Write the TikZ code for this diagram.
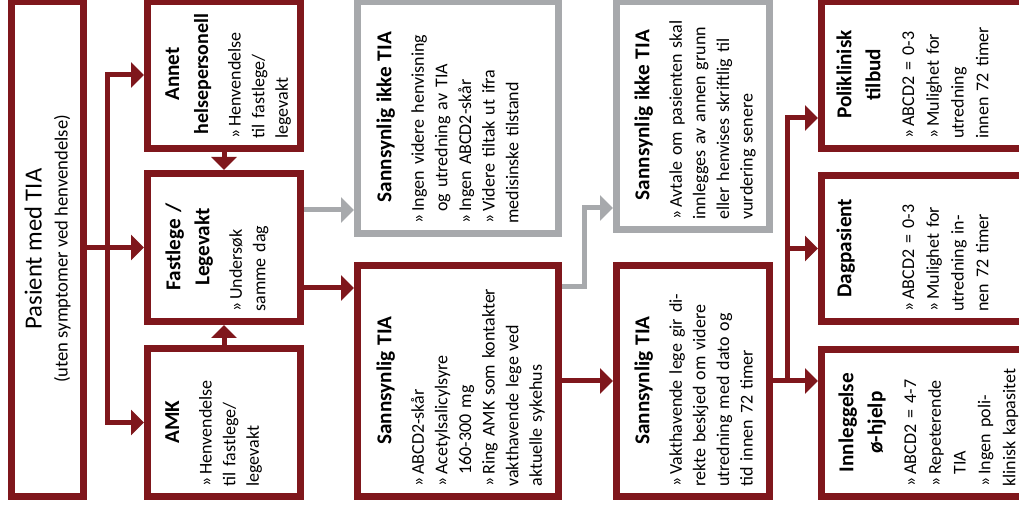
\documentclass[tikz,border=0pt]{standalone}
\usepackage{fontspec}
\setmainfont{Carlito}
\usetikzlibrary{arrows.meta,calc}
\definecolor{tiared}{RGB}{127,23,28}
\definecolor{tiagrey}{RGB}{167,169,172}
\newcommand{\bodyfont}{\fontsize{9}{11.8}\selectfont}
\newcommand{\boxhead}[1]{{\centering\fontsize{10.6}{14.5}\selectfont\bfseries #1\par}\vspace{4.5pt}}
\newlength{\bulw}
\setlength{\bulw}{6pt}
\newcommand{\itm}[1]{\par\hangindent=\bulw\hangafter=1\noindent\makebox[\bulw][l]{»}#1}

\begin{document}
\begin{tikzpicture}[x=0.5pt, y=-0.5pt,
    redbox/.style={draw=tiared, line width=3.5pt, fill=white, inner sep=0pt},
    greybox/.style={draw=tiagrey, line width=3.5pt, fill=white, inner sep=0pt},
    boxsize/.style 2 args={minimum width=#1*0.5pt-3.5pt, minimum height=#2*0.5pt-3.5pt},
    txt/.style={rotate=90, anchor=north west, inner sep=0pt, align=left, text width=#1, font=\bodyfont},
    wide/.style={font=\fontsize{9}{12.4}\selectfont},
    rline/.style={draw=tiared, line width=2.5pt},
    gline/.style={draw=tiagrey, line width=2.5pt},
    arr/.style={-{Triangle[length=6.5pt,width=12.5pt]}},
    arrboth/.style={{Triangle[length=6.5pt,width=12.5pt]}-{Triangle[length=6.5pt,width=12.5pt]}}]
    \useasboundingbox (0,0) rectangle (1019,517);
    \clip (0,0) rectangle (1019,517);

    % boxes
    \node[redbox, boxsize={79}{502}] (pas) at (47.5,249) {};
    \node[redbox, boxsize={160}{154}] (annet) at (224,75) {};
    \node[redbox, boxsize={160}{155}] (fast) at (224,247.5) {};
    \node[redbox, boxsize={160}{155}] (amk) at (224,422.5) {};
    \node[greybox, boxsize={208}{239}] (ikke1) at (458,117.5) {};
    \node[redbox, boxsize={208}{238}] (tia1) at (458,381) {};
    \node[greybox, boxsize={160}{235}] (ikke2) at (693,115.5) {};
    \node[redbox, boxsize={160}{238}] (tia2) at (693,381) {};
    \node[redbox, boxsize={252}{154}] (poli) at (944,75) {};
    \node[redbox, boxsize={252}{153}] (dag) at (944,248.5) {};
    \node[redbox, boxsize={252}{154}] (innl) at (944,423) {};

    % texts
    \node[rotate=90, align=center, font=\fontsize{9.3}{13}\selectfont] (pas-t) at (pas.center)
        {{\fontsize{12.3}{14}\selectfont Pasient med TIA}\\(uten symptomer ved henvendelse)};
    \node[txt=64.5pt] (annet-t) at ($(annet.south west)+(21,-13)$)
        {\boxhead{Annet\\\fontsize{10}{14.5}\selectfont helsepersonell}\itm{Henvendelse\newline til fastlege/\newline legevakt}};
    \node[txt=64.5pt] (fast-t) at ($(fast.south west)+(21,-13)$)
        {\boxhead{Fastlege /\\Legevakt}\itm{Undersøk\newline samme dag}};
    \node[txt=64.5pt] (amk-t) at ($(amk.south west)+(21,-13)$)
        {\boxhead{AMK}\itm{Henvendelse\newline til fastlege/\newline legevakt}};
    \node[txt=106.5pt] (ikke1-t) at ($(ikke1.south west)+(22,-13)$)
        {\boxhead{Sannsynlig ikke TIA}
         \itm{Ingen videre henvisning\newline og utredning av TIA}
         \itm{Ingen ABCD2-skår}
         \itm{Videre tiltak ut ifra\newline medisinske tilstand}};
    \node[txt=106pt] (tia1-t) at ($(tia1.south west)+(22,-13)$)
        {\boxhead{Sannsynlig TIA}
         \itm{ABCD2-skår}
         \itm{Acetylsalicylsyre\newline 160-300 mg}
         \itm{Ring AMK som kontakter\newline vakthavende lege ved\newline aktuelle sykehus}};
    \node[txt=104.5pt] (ikke2-t) at ($(ikke2.south west)+(21,-13)$)
        {\boxhead{Sannsynlig ikke TIA}
         \itm{Avtale om pasienten skal\newline innlegges av annen grunn\newline eller henvises skriftlig til\newline vurdering senere}};
    \node[txt=106pt] (tia2-t) at ($(tia2.south west)+(21,-13)$)
        {\boxhead{Sannsynlig TIA}
         \itm{Vakthavende lege gir di-\newline rekte beskjed om videre\newline utredning med dato og\newline tid innen 72 timer}};
    \node[txt=64pt, wide] (poli-t) at ($(poli.south west)+(18,-13)$)
        {\boxhead{Poliklinisk\\tilbud}
         \itm{ABCD2 = 0-3}
         \itm{Mulighet for\newline utredning\newline innen 72 timer}};
    \node[txt=63.5pt, wide] (dag-t) at ($(dag.south west)+(18,-13)$)
        {\boxhead{Dagpasient}\vspace{14.5pt}
         \itm{ABCD2 = 0-3}
         \itm{Mulighet for\newline utredning in-\newline nen 72 timer}};
    \node[txt=64pt, wide] (innl-t) at ($(innl.south west)+(20,-13)$)
        {\boxhead{Innleggelse\\ø-hjelp}
         \itm{ABCD2 = 4-7}
         \itm{Repeterende\newline TIA}
         \itm{Ingen poli-\newline klinisk kapasitet}};

    % connectors
    \coordinate (lsplit) at (107,0);
    \coordinate (rsplit) at (787,0);
    \coordinate (gbend) at (584,0);
    \draw[rline, arr] (pas.east |- fast.west) -- (fast.west);
    \draw[rline, arrboth] (annet.west) -- (annet.west -| lsplit) -- (amk.west -| lsplit) -- (amk.west);
    \draw[rline, arr] (annet.south) -- (fast.north);
    \draw[rline, arr] (amk.north) -- (fast.south);

    \coordinate (fgrey) at ($(fast.east)+(0,-37.5)$);
    \coordinate (fred) at ($(fast.east)+(0,40.5)$);
    \draw[gline, arr] (fgrey) -- (fgrey -| ikke1.west);
    \draw[rline, arr] (fred) -- (fred -| tia1.west);

    \coordinate (gout) at ($(tia1.east)+(0,-94)$);
    \coordinate (gin) at ($(ikke2.west)+(0,92.5)$);
    \draw[gline, arr] (gout) -- (gout -| gbend) |- (gin);
    \draw[rline, arr] (tia1.east) -- (tia2.west);

    \coordinate (pin) at ($(poli.west)+(0,43)$);
    \draw[rline, arr] (tia2.east) -- (tia2.east -| innl.west);
    \draw[rline, arr] (tia2.east -| rsplit) -- (pin -| rsplit) -- (pin);
    \draw[rline, arr] (dag.west -| rsplit) -- (dag.west);
\end{tikzpicture}
\end{document}
